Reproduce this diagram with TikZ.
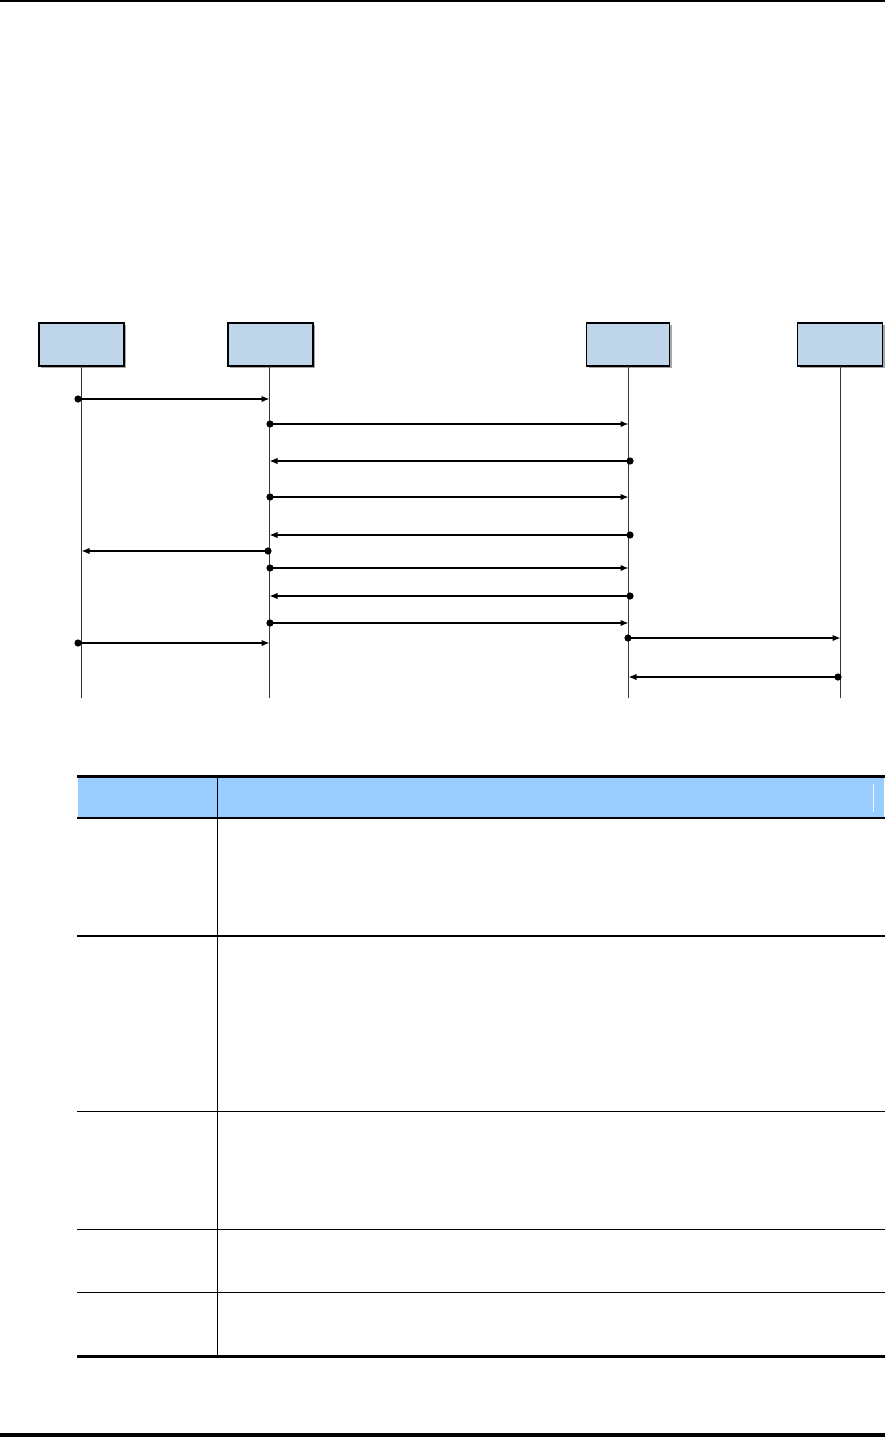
\documentclass[tikz,border=0pt]{standalone}
\usetikzlibrary{arrows.meta,shadows}
\definecolor{boxblue}{RGB}{190,213,234}
\definecolor{headblue}{RGB}{153,204,255}
\definecolor{lifegray}{RGB}{55,55,55}
\begin{document}
\begin{tikzpicture}[x=1pt,y=-1pt,
  actor/.style={draw=black,line width=1.2pt,fill=boxblue,minimum width=85pt,minimum height=43pt,inner sep=0pt,
    drop shadow={shadow xshift=1.8pt,shadow yshift=-1.8pt,fill=gray!70,opacity=1}},
  lifeline/.style={draw=lifegray,line width=1.6pt},
  msg/.style={draw=black,line width=1.4pt,-{Latex[length=8pt,width=6.5pt]}},
  dotmark/.style={fill=black},
  rule/.style={draw=black,line width=1.3pt},
  thickrule/.style={draw=black,line width=3pt}]
\useasboundingbox (0,0) rectangle (885,1437);
\fill[white] (0,0) rectangle (885,1437);
% page rules
\coordinate (pt1) at (0,1); \coordinate (pt2) at (885,1);
\draw[black,line width=1.6pt] (pt1) -- (pt2);
\coordinate (pb1) at (0,1435); \coordinate (pb2) at (885,1435);
\draw[black,line width=3.5pt] (pb1) -- (pb2);
% actors
\node[actor] (A) at (81.5,344.5) {};
\node[actor] (B) at (270.5,344.5) {};
\node[actor,minimum width=83pt] (C) at (628.3,344.5) {};
\node[actor] (D) at (840.3,344.5) {};
% lifelines
\coordinate (Ae) at (81.5,698); \coordinate (Be) at (269.5,698);
\coordinate (Ce) at (628.5,698); \coordinate (De) at (840.5,698);
\coordinate (As) at (81.5,366); \coordinate (Bs) at (269.5,366);
\coordinate (Cs) at (628.5,366); \coordinate (Ds) at (840.5,366);
\draw[lifeline] (As) -- (Ae);
\draw[lifeline] (Bs) -- (Be);
\draw[lifeline] (Cs) -- (Ce);
\draw[lifeline] (Ds) -- (De);
% messages: name, y, from x, to x
\foreach \n/\y/\fx/\tx in {
  m1/399/78/269.5,
  m2/424/270/628.5,
  m3/461/630/269.5,
  m4/497/270/628.5,
  m5/535/630/269.5,
  m6/551/268/81.5,
  m7/568/270/628.5,
  m8/596/630/269.5,
  m9/623/270/628.5,
  m10/638/628/840.5,
  m11/643/78/269.5,
  m12/677/838/628.5}{
  \coordinate (\n s) at (\fx,\y);
  \coordinate (\n e) at (\tx,\y);
  \draw[msg] (\n s) -- (\n e);
  \fill[dotmark] (\n s) circle (3.6pt);
}
% table
\coordinate (h1) at (77.5,777.5); \coordinate (h2) at (884,817.5);
\fill[headblue] (h1) rectangle (h2);
\coordinate (hl1) at (873,784); \coordinate (hl2) at (873,812);
\draw[white!85!headblue,line width=0.8pt] (hl1) -- (hl2);
\coordinate (t0a) at (77,776); \coordinate (t0b) at (885,776);
\draw[thickrule] (t0a) -- (t0b);
\foreach \n/\y in {r1/818,r2/936,r3/1111.5,r4/1229.3,r5/1292.5}{
  \coordinate (\n a) at (77,\y); \coordinate (\n b) at (885,\y);
  \draw[rule] (\n a) -- (\n b);
}
\coordinate (t6a) at (77,1356); \coordinate (t6b) at (885,1356);
\draw[thickrule] (t6a) -- (t6b);
\coordinate (c1) at (217.3,777); \coordinate (c2) at (217.3,1355);
\draw[rule] (c1) -- (c2);
\end{tikzpicture}
\end{document}
